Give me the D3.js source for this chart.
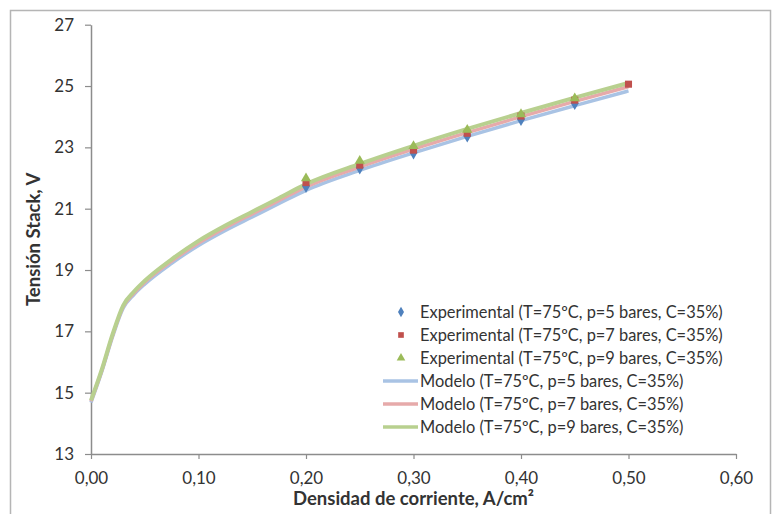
<!DOCTYPE html>
<html>
<head>
<meta charset="utf-8">
<script src="https://cdn.jsdelivr.net/npm/d3@7"></script>
<style>
  html, body { margin: 0; padding: 0; background: #fff; }
  svg { display: block; }
  text { font-family: Lato, "Open Sans", sans-serif; fill: #333; }
</style>
</head>
<body>
<svg id="chart" width="774" height="514"></svg>
<script>
// ---- data ----
const xTicks = [0, 0.1, 0.2, 0.3, 0.4, 0.5, 0.6];
const yTicks = [13, 15, 17, 19, 21, 23, 25, 27];

const expI5 = [0.20, 0.25, 0.30, 0.35, 0.40, 0.45];
const expV5 = [21.74, 22.34, 22.83, 23.38, 23.92, 24.44];
const expI7 = [0.20, 0.25, 0.30, 0.35, 0.40, 0.45, 0.50];
const expV7 = [21.85, 22.42, 22.91, 23.46, 24.02, 24.54, 25.06];
const expI9 = [0.20, 0.25, 0.30, 0.35, 0.40, 0.45];
const expV9 = [21.99, 22.56, 23.04, 23.57, 24.08, 24.60];

const modI = [0, 0.01, 0.02, 0.03, 0.04, 0.05, 0.075, 0.10, 0.125, 0.15, 0.175, 0.20, 0.25, 0.30, 0.35, 0.40, 0.45, 0.50];
const modV5 = [14.68, 15.68, 16.82, 17.76, 18.2, 18.54, 19.22, 19.8, 20.29, 20.73, 21.17, 21.6, 22.25, 22.82, 23.36, 23.87, 24.36, 24.84];
const modV7 = [14.72, 15.72, 16.86, 17.81, 18.25, 18.6, 19.29, 19.88, 20.38, 20.83, 21.27, 21.71, 22.36, 22.94, 23.48, 24.0, 24.5, 24.98];
const modV9 = [14.75, 15.75, 16.9, 17.85, 18.3, 18.65, 19.35, 19.95, 20.45, 20.9, 21.35, 21.8, 22.46, 23.05, 23.6, 24.12, 24.62, 25.1];

const legendLabels = [
  "Experimental (T=75ºC, p=5 bares, C=35%)",
  "Experimental (T=75ºC, p=7 bares, C=35%)",
  "Experimental (T=75ºC, p=9 bares, C=35%)",
  "Modelo (T=75ºC, p=5 bares, C=35%)",
  "Modelo (T=75ºC, p=7 bares, C=35%)",
  "Modelo (T=75ºC, p=9 bares, C=35%)"
];

const markerColors = ["#4f81bd", "#c0504d", "#9bbb59"];
const lineColors = ["#a9c3e4", "#e6aaaa", "#b8d08f"];

// ---- drawing ----
const svg = d3.select("#chart");
const x = d3.scaleLinear().domain([0, 0.6]).range([91, 736]);
const y = d3.scaleLinear().domain([13, 27]).range([454, 24.7]);

// outer border
svg.append("rect").attr("x", 10.5).attr("y", 10.5).attr("width", 760).attr("height", 520)
  .attr("fill", "none").attr("stroke", "#b5b5b5").attr("stroke-width", 1.5);

const fmt = d => d3.format(".2f")(d).replace(".", ",");

const xAxis = svg.append("g").attr("transform", `translate(0,${y(13)})`)
  .call(d3.axisBottom(x).tickValues(xTicks).tickFormat(fmt).tickSize(5).tickSizeOuter(0));
const yAxis = svg.append("g").attr("transform", `translate(${x(0)},0)`)
  .call(d3.axisLeft(y).tickValues(yTicks).tickFormat(d3.format("d")).tickSize(6).tickSizeOuter(0));

[xAxis, yAxis].forEach(g => {
  g.select(".domain").attr("stroke", "#8c8c8c").attr("stroke-width", 1.5);
  g.selectAll(".tick line").attr("stroke", "#8c8c8c").attr("stroke-width", 1.2);
  g.selectAll(".tick text").style("font-family", "Lato, sans-serif").style("font-size", "17px").attr("fill", "#3a3a3a");
});
xAxis.selectAll(".tick text").attr("y", 0).attr("dy", 0).attr("transform", "translate(0,30)");
yAxis.selectAll(".tick text").attr("x", -17);

// axis titles
svg.append("text").attr("x", (x(0) + x(0.6)) / 2).attr("y", 505).attr("text-anchor", "middle")
  .style("font-size", "18.5px").style("font-weight", "bold").attr("fill", "#111")
  .text("Densidad de corriente, A/cm²");
svg.append("text").attr("transform", `translate(40,${(y(13) + y(27)) / 2}) rotate(-90)`)
  .attr("text-anchor", "middle")
  .style("font-size", "18.5px").style("font-weight", "bold").attr("fill", "#111")
  .text("Tensión Stack, V");

// model lines
const line = d3.line().x(d => x(d[0])).y(d => y(d[1])).curve(d3.curveMonotoneX);
const models = [modV5, modV7, modV9];
models.forEach((vals, i) => {
  svg.append("path").datum(modI.map((v, k) => [v, vals[k]]))
    .attr("d", line).attr("fill", "none").attr("stroke", lineColors[i])
    .attr("stroke-width", i === 2 ? 4 : 3.5).attr("stroke-linejoin", "round");
});

// experimental markers
const sym = [d3.symbolDiamond, d3.symbolSquare, d3.symbolTriangle];
const symSize = [55, 50, 45];
const exps = [[expI5, expV5], [expI7, expV7], [expI9, expV9]];
exps.forEach((e, i) => {
  svg.append("g").selectAll("path").data(e[0].map((v, k) => [v, e[1][k]])).enter()
    .append("path")
    .attr("transform", d => `translate(${x(d[0])},${y(d[1])})`)
    .attr("d", d3.symbol().type(sym[i]).size(symSize[i]))
    .attr("fill", markerColors[i]);
});

// legend
const legY0 = 312, legDy = 23;
const leg = svg.append("g");
legendLabels.forEach((lab, i) => {
  const cy = legY0 + i * legDy;
  if (i < 3) {
    leg.append("path").attr("transform", `translate(401,${cy})`)
      .attr("d", d3.symbol().type(sym[i]).size(32)).attr("fill", markerColors[i]);
  } else {
    leg.append("line").attr("x1", 383).attr("x2", 418).attr("y1", cy).attr("y2", cy)
      .attr("stroke", lineColors[i - 3]).attr("stroke-width", 3.5);
  }
  leg.append("text").attr("x", 420).attr("y", cy).attr("dy", "0.35em")
    .style("font-size", "16.4px").attr("fill", "#333").text(lab);
});
</script>
</body>
</html>
